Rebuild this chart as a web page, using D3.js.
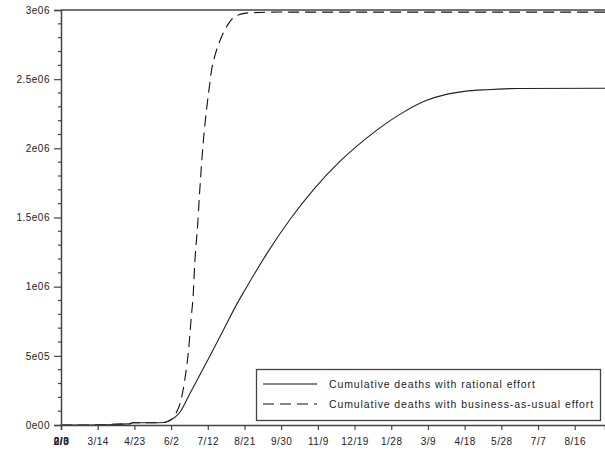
<!DOCTYPE html>
<html>
<head>
<meta charset="utf-8">
<script src="https://cdn.jsdelivr.net/npm/d3@7"></script>
<style>
  html, body { margin: 0; padding: 0; background: #fff; }
  svg { display: block; font-family: "Liberation Sans", Arial, sans-serif; }
</style>
</head>
<body>
<svg id="chart" width="605" height="455"></svg>
<script>
// Days since 2/3/2020 and cumulative deaths
const rationalDays = [0, 50, 57, 75, 78, 100, 112, 116, 120, 125, 130, 140, 150, 160, 177, 193, 200, 224, 249, 275, 304, 344, 373, 398, 420, 440, 464, 500, 600];
const rationalDeaths = [0, 1000, 5000, 8000, 16000, 16500, 18000, 25000, 38000, 60000, 96000, 220000, 345000, 470000, 686000, 890000, 970000, 1235000, 1480000, 1700000, 1905000, 2130000, 2260000, 2345000, 2390000, 2412000, 2424000, 2433000, 2435000];

const usualDays = [0, 50, 57, 75, 78, 100, 112, 116, 120, 125, 130, 133, 135, 139, 142, 144, 146, 149, 151, 155, 159, 162, 164, 167, 170, 174, 177, 183, 188, 196, 206, 240, 600];
const usualDeaths = [0, 1000, 5000, 8000, 16000, 16500, 18000, 25000, 38000, 80000, 160000, 250000, 330000, 540000, 780000, 930000, 1190000, 1450000, 1670000, 2040000, 2300000, 2460000, 2560000, 2650000, 2720000, 2790000, 2835000, 2905000, 2945000, 2970000, 2980000, 2985000, 2985000];

const xTickDays = [0, 40, 80, 120, 160, 200, 240, 280, 320, 360, 400, 440, 480, 520, 560];
const xTickLabels = ["2/3", "3/14", "4/23", "6/2", "7/12", "8/21", "9/30", "11/9", "12/19", "1/28", "3/9", "4/18", "5/28", "7/7", "8/16"];
const yTickValues = [0, 500000, 1000000, 1500000, 2000000, 2500000, 3000000];
const yTickLabels = ["0e00", "5e05", "1e06", "1.5e06", "2e06", "2.5e06", "3e06"];
const legendLabels = ["Cumulative deaths with rational effort", "Cumulative deaths with business-as-usual effort"];

const svg = d3.select("#chart");
const mLeft = 61, mBottom = 425, mTop = 10, mRight = 605;

const x = d3.scaleLinear().domain([0, 593]).range([mLeft, mRight]);
const y = d3.scaleLinear().domain([0, 3000000]).range([mBottom, mTop]);

const axisColor = "#444";
const textColor = "#222";

// top border of the frame
svg.append("line").attr("x1", mLeft).attr("x2", mRight).attr("y1", mTop).attr("y2", mTop)
  .attr("stroke", axisColor).attr("stroke-width", 1.5);

// curves
const line = d3.line().x(d => x(d[0])).y(d => y(d[1])).curve(d3.curveMonotoneX);
const rational = rationalDays.map((d, i) => [d, rationalDeaths[i]]);
const usual = usualDays.map((d, i) => [d, usualDeaths[i]]);

svg.append("path").datum(usual).attr("d", line)
  .attr("fill", "none").attr("stroke", "#111").attr("stroke-width", 1.1)
  .attr("stroke-dasharray", "11,6");
svg.append("path").datum(rational).attr("d", line)
  .attr("fill", "none").attr("stroke", "#222").attr("stroke-width", 1.1);

// y axis
const yAxis = d3.axisLeft(y).tickValues(yTickValues)
  .tickFormat((d, i) => yTickLabels[i]).tickSize(7).tickPadding(4);
const gy = svg.append("g").attr("transform", `translate(${mLeft},0)`).call(yAxis);
gy.select(".domain").attr("stroke", axisColor).attr("stroke-width", 1.5);
gy.selectAll(".tick line").attr("stroke", axisColor).attr("stroke-width", 1.2);
gy.selectAll(".tick text").attr("fill", textColor).style("font-size", "10px")
  .style("font-family", "'Liberation Sans', Arial, sans-serif").style("letter-spacing", "0.5px");

// y minor ticks
const minor = d3.range(0, 3000001, 100000).filter(v => v % 500000 !== 0);
svg.append("g").selectAll("line").data(minor).join("line")
  .attr("x1", mLeft - 3).attr("x2", mLeft).attr("y1", d => y(d)).attr("y2", d => y(d))
  .attr("stroke", axisColor).attr("stroke-width", 1.2);

// x axis
const xAxis = d3.axisBottom(x).tickValues(xTickDays)
  .tickFormat((d, i) => xTickLabels[i]).tickSize(5).tickPadding(8);
const gx = svg.append("g").attr("transform", `translate(0,${mBottom})`).call(xAxis);
gx.select(".domain").attr("stroke", axisColor).attr("stroke-width", 1.5);
gx.selectAll(".tick line").attr("stroke", axisColor).attr("stroke-width", 1.2);
gx.selectAll(".tick text").attr("fill", textColor).style("font-size", "10px")
  .style("font-family", "'Liberation Sans', Arial, sans-serif").style("letter-spacing", "0.5px");
// origin label drawn twice over itself
gx.select(".tick text").clone(true).text("0/0").style("font-weight", "bold");
gx.select(".tick text").style("font-weight", "bold");

// legend
const lg = svg.append("g");
lg.append("rect").attr("x", 256.5).attr("y", 369.5).attr("width", 344).attr("height", 51)
  .attr("fill", "#fff").attr("stroke", "#444").attr("stroke-width", 1.3);
const dashes = [null, "11,6"];
legendLabels.forEach((t, i) => {
  const ly = 384 + i * 20;
  lg.append("line").attr("x1", 263).attr("x2", 317).attr("y1", ly).attr("y2", ly)
    .attr("stroke", "#111").attr("stroke-width", 1.1)
    .attr("stroke-dasharray", dashes[i]);
  lg.append("text").attr("x", 329).attr("y", ly).attr("dy", "0.35em")
    .attr("fill", textColor).style("font-size", "10.5px").style("letter-spacing", "0.9px")
    .text(t);
});
</script>
</body>
</html>
